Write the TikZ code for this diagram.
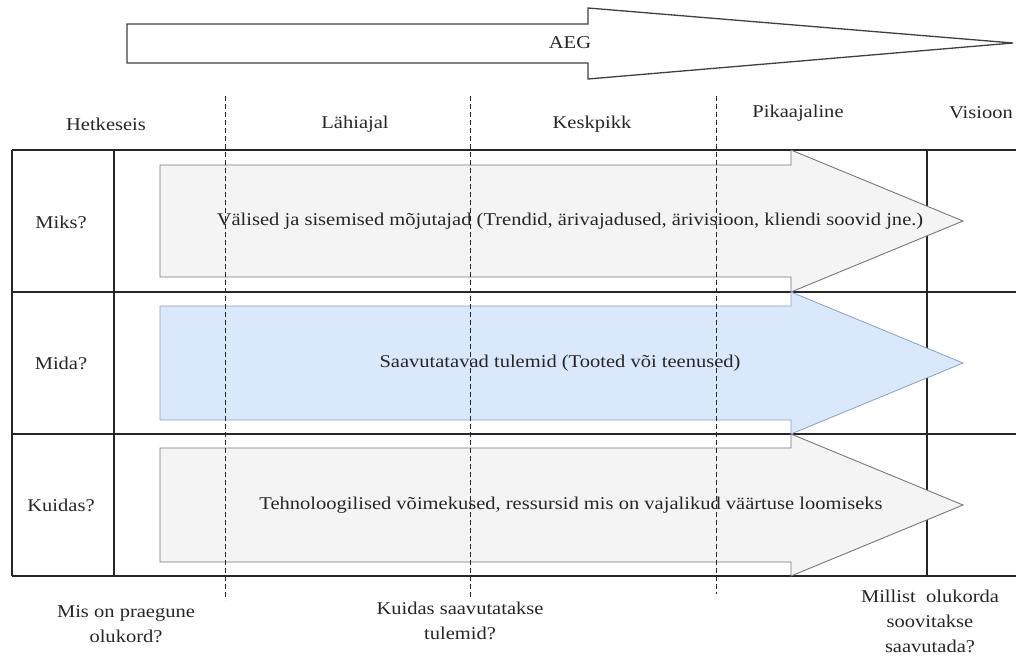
\documentclass[tikz,border=0pt]{standalone}
\usepackage{fontspec}
\setmainfont{Liberation Serif}[FakeStretch=1.14]
\definecolor{bluefill}{RGB}{218,232,252}
\definecolor{bluedraw}{RGB}{140,160,195}
\definecolor{greyfill}{RGB}{244,244,244}
\definecolor{greydraw}{RGB}{120,120,120}
\begin{document}
\begin{tikzpicture}[x=1pt,y=-1pt,
  lbl/.style={font=\fontsize{18}{25}\selectfont, text=black!85, align=center, inner sep=0pt},
  grid/.style={draw=black!85, line width=1.2pt},
  sep/.style={draw=black!85, line width=0.9pt, dash pattern=on 5pt off 3pt},
  greyarrow/.style={fill=greyfill, draw=greydraw, line width=0.9pt},
  bluearrow/.style={fill=bluefill, draw=bluedraw, line width=0.8pt},
  toparrow/.style={fill=white, draw=black!75, line width=1.3pt}]
\useasboundingbox (0,0) rectangle (1016,656);
% top arrow
\draw[toparrow] (127,24) -- (588,24) -- (588,8) -- (1013,43) -- (588,79) -- (588,63) -- (127,63) -- cycle;
\node[lbl] (aeg) at (570,43) {AEG};
% headers
\node[lbl] (h1) at (106,124) {Hetkeseis};
\node[lbl] (h2) at (355,124) {Lähiajal};
\node[lbl] (h3) at (592,124) {Keskpikk};
\node[lbl] (h4) at (798,113) {Pikaajaline};
\node[lbl, anchor=east] (h5) at (1013,113) {Visioon};
% table
\draw[grid] (12,150) -- (1016,150);
\draw[grid] (12,292) -- (1016,292);
\draw[grid] (12,434) -- (1016,434);
\draw[grid] (12,576) -- (1016,576);
\draw[grid] (12,150) -- (12,576);
\draw[grid] (114,150) -- (114,576);
\draw[grid] (927,150) -- (927,576);
% row arrows
\draw[greyarrow] (160,165) -- (791,165) -- (791,150) -- (963,221) -- (791,292) -- (791,277) -- (160,277) -- cycle;
\draw[bluearrow] (160,306) -- (791,306) -- (791,292) -- (963,363) -- (791,434) -- (791,420) -- (160,420) -- cycle;
\draw[greyarrow] (160,448) -- (791,448) -- (791,434) -- (963,505) -- (791,576) -- (791,562) -- (160,562) -- cycle;
% dashed separators
\draw[sep] (225,96) -- (225,600);
\draw[sep] (470,96) -- (470,600);
\draw[sep] (716,96) -- (716,594);
% row labels
\node[lbl] (r1) at (61,222) {Miks?};
\node[lbl] (r2) at (61,363) {Mida?};
\node[lbl] (r3) at (61,505) {Kuidas?};
% arrow texts
\node[lbl] (t1) at (570,221) {Välised ja sisemised mõjutajad (Trendid, ärivajadused, ärivisioon, kliendi soovid jne.)};
\node[lbl] (t2) at (560,363) {Saavutatavad tulemid (Tooted või teenused)};
\node[lbl] (t3) at (571,505) {Tehnoloogilised võimekused, ressursid mis on vajalikud väärtuse loomiseks};
% bottom questions
\node[lbl] (b1) at (126,624) {Mis on praegune\\olukord?};
\node[lbl] (b2) at (460,621) {Kuidas saavutatakse\\tulemid?};
\node[lbl] (b3) at (930,621) {Millist~ olukorda\\soovitakse\\saavutada?};
\end{tikzpicture}
\end{document}
